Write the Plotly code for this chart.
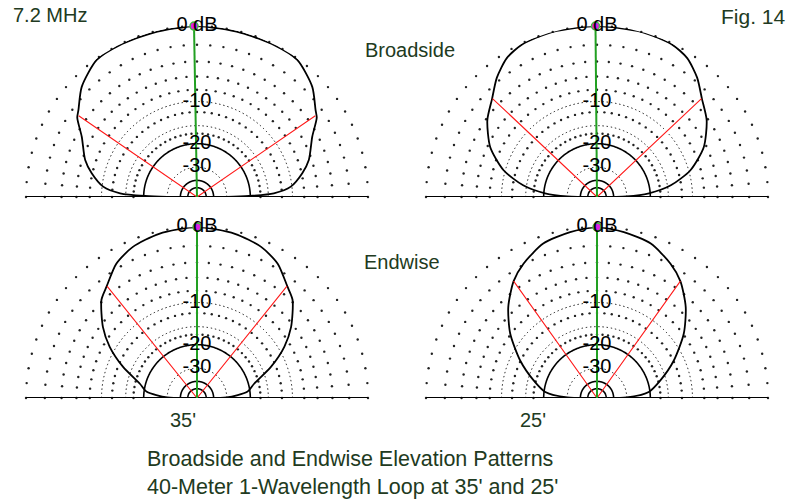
import plotly.graph_objects as go

# ---------------- data ----------------
# grid (dB, ARRL log scale)
ring_db_fine = [-10, -15, -30]                 # finely dotted circles
ring_db_sparse = [0, -2, -4, -6, -8, -12, -17]  # sparse dot rings
sparse_step_deg = 5
ring_db_solid = [-20, -40, -50]
ring_label_db = [0, -10, -20, -30]
ring_labels = ["0 dB", "-10", "-20", "-30"]

# elevation patterns: elevation angle (deg) vs. gain relative to max (dB)
tl_elev = [0, 0.3, 1.1, 2.75, 6.3, 12.7, 18.3, 27.6, 33.5, 36.2, 43.7, 53.8, 63, 75, 90]
tl_gain = [-99, -30, -20.4, -13.7, -10.2, -7.9, -6.4, -4.7, -3, -2.6, -1.2, -0.12, -0.06, -0.1, 0]
tl_hp = 34.5      # -3 dB elevation angle
tl_peak = 91      # cursor angle

tr_elev = [0, 1, 4, 9, 16, 25, 35, 43, 50, 57, 64, 75, 90]
tr_gain = [-99, -30, -20.4, -14.2, -9.7, -6.4, -4.2, -3, -1.6, -0.55, -0.1, 0, 0]
tr_hp = 43.3
tr_peak = 90.5

bl_elev = [0, 1, 7, 14, 22.8, 30.4, 37, 45.8, 51, 59, 67, 77, 90]
bl_gain = [-99, -30, -20.9, -18.3, -13, -9, -6.4, -3.8, -3, -1.5, -0.7, -0.25, 0]
bl_hp = 51.2
bl_peak = 90

br_elev = [0, 1, 6.6, 15.5, 26, 36.5, 45.7, 54.5, 61.3, 70.8, 80.8, 90]
br_gain = [-99, -30, -20.4, -16.4, -11.9, -7.9, -5.1, -3, -1.9, -0.77, -0.3, 0]
br_hp = 54.5
br_peak = 90

freq_label = "7.2 MHz"
fig_label = "Fig. 14"
row_labels = ["Broadside", "Endwise"]
col_labels = ["35'", "25'"]
title_lines = ["Broadside and Endwise Elevation Patterns",
               "40-Meter 1-Wavelength Loop at 35' and 25'"]

# ---------------- helpers ----------------
def arrl(db):
    """ARRL log scale: radius shrinks by 0.89 per 2 dB."""
    return 0.89 ** (abs(db) / 2.0)

W, H = 791, 502
R = 171
FONT = "Liberation Sans, Arial, sans-serif"
TXT = "#213a21"
GRID = "#111111"

centers = {"polar": (197, 197), "polar2": (597, 197),
           "polar3": (197, 398), "polar4": (597, 398)}

def dom(cx, cy):
    return dict(x=[(cx - R) / W, (cx + R) / W],
                y=[1 - cy / H, 1 - (cy - R) / H])

fig = go.Figure()

sparse_angles = list(range(0, 181, sparse_step_deg))
lat_r, lat_t = [], []
for db in ring_db_sparse:
    for a in sparse_angles:
        lat_r.append(arrl(db))
        lat_t.append(a)

def add_pattern(sub, elev, gain, hp, peak):
    # sparse dot lattice
    fig.add_trace(go.Scatterpolar(r=lat_r, theta=lat_t, mode="markers",
                                  marker=dict(color="#222222", size=2.4, line=dict(width=0)),
                                  subplot=sub, hoverinfo="skip", showlegend=False, cliponaxis=False))
    # solid rings
    arc_t = list(range(0, 181))
    for db in ring_db_solid:
        fig.add_trace(go.Scatterpolar(r=[arrl(db)] * len(arc_t), theta=arc_t, mode="lines",
                                      line=dict(color="black", width=1.6),
                                      subplot=sub, hoverinfo="skip", showlegend=False))
    # ground line
    fig.add_trace(go.Scatterpolar(r=[1, 0, 1], theta=[180, 180, 0], mode="lines",
                                  line=dict(color="black", width=2),
                                  subplot=sub, hoverinfo="skip", showlegend=False))
    # pattern (mirror the 0..90 data to 90..180)
    th = list(elev) + [180 - e for e in reversed(elev[:-1])]
    g = list(gain) + list(reversed(gain[:-1]))
    fig.add_trace(go.Scatterpolar(r=[arrl(v) for v in g], theta=th, mode="lines",
                                  line=dict(color="black", width=1.8, shape="spline", smoothing=0.7),
                                  subplot=sub, hoverinfo="skip", showlegend=False))
    # -3 dB beamwidth lines
    rhp = arrl(-3)
    fig.add_trace(go.Scatterpolar(r=[rhp, 0, rhp], theta=[180 - hp, 90, hp], mode="lines",
                                  line=dict(color="#ff1a1a", width=1.1),
                                  subplot=sub, hoverinfo="skip", showlegend=False))
    # cursor line to the peak
    fig.add_trace(go.Scatterpolar(r=[0, 1], theta=[peak, peak], mode="lines",
                                  line=dict(color="#22a022", width=2),
                                  subplot=sub, hoverinfo="skip", showlegend=False))
    fig.add_trace(go.Scatterpolar(r=[1], theta=[peak], mode="markers",
                                  marker=dict(color="#e020e0", size=8, line=dict(color="#40c040", width=1.5)),
                                  subplot=sub, hoverinfo="skip", showlegend=False, cliponaxis=False))
    # ring labels
    fig.add_trace(go.Scatterpolar(r=[arrl(d) for d in ring_label_db], theta=[90] * len(ring_label_db),
                                  mode="text", text=ring_labels, textposition="middle center",
                                  textfont=dict(family=FONT, size=20, color="black"),
                                  subplot=sub, hoverinfo="skip", showlegend=False, cliponaxis=False))

add_pattern("polar", tl_elev, tl_gain, tl_hp, tl_peak)
add_pattern("polar2", tr_elev, tr_gain, tr_hp, tr_peak)
add_pattern("polar3", bl_elev, bl_gain, bl_hp, bl_peak)
add_pattern("polar4", br_elev, br_gain, br_hp, br_peak)

polar_common = dict(
    sector=[0, 180], hole=0, bgcolor="rgba(0,0,0,0)",
    radialaxis=dict(range=[0, 1], tickmode="array", tickvals=[arrl(d) for d in ring_db_fine],
                    showticklabels=False, ticks="", showline=False, layer="below traces",
                    gridcolor=GRID, gridwidth=1.4, griddash="1.4px,2.8px"),
    angularaxis=dict(showgrid=False, showticklabels=False, ticks="",
                     showline=False, layer="below traces"),
)
layout_polars = {}
for name, (cx, cy) in centers.items():
    layout_polars[name] = dict(polar_common, domain=dom(cx, cy))

def ann(text, x, y, size=20, xanchor="center"):
    return dict(text=text, x=x / W, y=1 - y / H, xref="paper", yref="paper",
                xanchor=xanchor, yanchor="middle", showarrow=False,
                font=dict(family=FONT, size=size, color=TXT))

annotations = [
    ann(freq_label, 11, 15, xanchor="left"),
    ann(fig_label, 753, 17, size=21),
    ann(row_labels[0], 410, 50),
    ann(row_labels[1], 402, 262),
    ann(col_labels[0], 183, 420),
    ann(col_labels[1], 533, 420),
    ann(title_lines[0], 350, 459, size=21.5),
    ann(title_lines[1], 352, 487, size=21.5),
]

fig.update_layout(width=W, height=H, margin=dict(l=0, r=0, t=0, b=0),
                  paper_bgcolor="white", plot_bgcolor="white", showlegend=False,
                  annotations=annotations, **layout_polars)

fig.write_html("out.html", config={"displayModeBar": False},
               post_script="document.body.style.margin='0px';document.body.style.overflow='hidden';")
